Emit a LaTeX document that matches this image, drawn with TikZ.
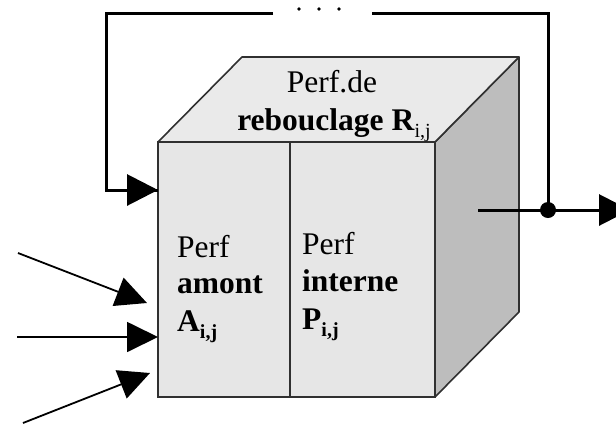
\documentclass[tikz,border=0pt]{standalone}
\usepackage{fontspec}
\setmainfont{Liberation Serif}
\usetikzlibrary{arrows.meta}
\definecolor{frontgray}{HTML}{E6E6E6}
\definecolor{topgray}{HTML}{EAEAEA}
\definecolor{sidegray}{HTML}{BDBDBD}
\definecolor{edgegray}{HTML}{303030}
\tikzset{
  facebox/.style={draw=edgegray, line width=1.6pt, fill=frontgray, inner sep=0pt, outer sep=0pt},
  faceedge/.style={draw=edgegray, line width=1.6pt, line join=round},
  loopline/.style={line width=3pt},
  inarrow/.style={line width=1.8pt, -{Triangle[length=31pt,width=30pt]}},
  bigarrow/.style={line width=3pt, -{Triangle[length=31pt,width=31pt]}},
  lbl/.style={font=\fontsize{31.5}{36}\selectfont, inner sep=0pt, anchor=base west},
  lblc/.style={font=\fontsize{31.5}{36}\selectfont, inner sep=0pt, anchor=base},
}
\newcommand{\subij}{\raisebox{-7pt}{\fontsize{20}{20}\selectfont i,j}}
\begin{document}
\begin{tikzpicture}[x=1pt,y=-1pt]
\useasboundingbox (0,0) rectangle (616,424);
% cube side and top faces
\path[faceedge, fill=sidegray] (435,142) -- (519,57) -- (519,312) -- (435,397) -- cycle;
\path[faceedge, fill=topgray] (158,142) -- (242,57) -- (519,57) -- (435,142) -- cycle;
% front face halves
\node[facebox, minimum width=132pt, minimum height=255pt] (amont) at (224,269.5) {};
\node[facebox, minimum width=145pt, minimum height=255pt] (interne) at (362.5,269.5) {};
% texts
\node[lblc] (t1) at (332,92) {Perf.de};
\node[lblc] (t2) at (334,130) {\textbf{rebouclage R}\subij};
\node[lbl] (a1) at (177,257) {Perf};
\node[lbl] (a2) at (177,293) {\textbf{amont}};
\node[lbl] (a3) at (177,331) {\textbf{A}\textbf{\subij}};
\node[lbl] (p1) at (302,254) {Perf};
\node[lbl] (p2) at (302,291) {\textbf{interne}};
\node[lbl] (p3) at (302,329) {\textbf{P}\textbf{\subij}};
% feedback loop
\coordinate (gapL) at (273,13);
\coordinate (gapR) at (372,13);
\coordinate (outS) at (478,210);
\coordinate (outE) at (630,210);
\coordinate (junc) at (548,210);
\fill (junc) circle (8pt);
\fill (299,9) circle (1.8pt) (319,9) circle (1.8pt) (339,9) circle (1.8pt);
\draw[loopline] (junc) -- (548,13) -- (gapR);
\draw[loopline] (gapL) -- (106,13) -- (106,190) -- (amont.west |- 0,190);
\draw[bigarrow] (106,190) -- (amont.west |- 0,190);
\draw[bigarrow] (outS) -- (outE);
% inputs
\coordinate (i1) at (18,253);
\coordinate (i2) at (17,337);
\coordinate (i3) at (23,423);
\draw[inarrow] (i1) -- (147,303);
\draw[inarrow] (i2) -- (amont.west |- 0,337);
\draw[inarrow] (i3) -- (150,373);
\end{tikzpicture}
\end{document}
